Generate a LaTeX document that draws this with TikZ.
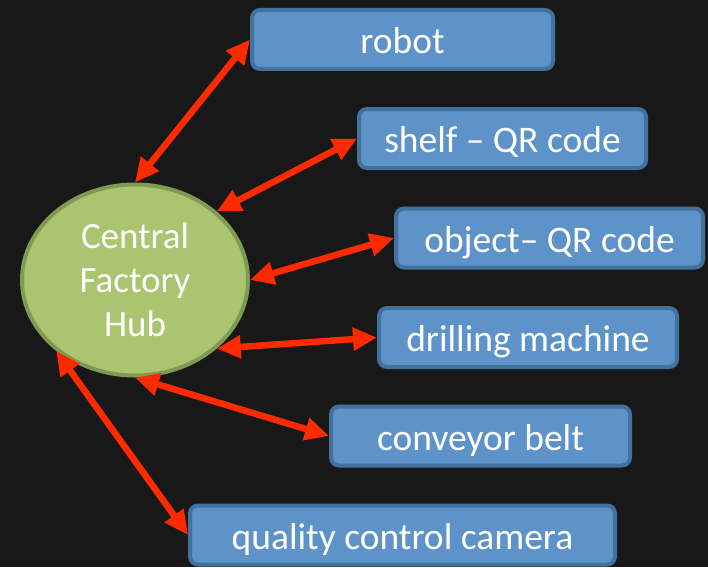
\documentclass[tikz,border=0pt]{standalone}
\usepackage{fontspec}
\setmainfont{Carlito}
\usetikzlibrary{arrows.meta,shapes.geometric}
\definecolor{bg}{HTML}{181818}
\definecolor{boxfill}{HTML}{5E93C9}
\definecolor{boxline}{HTML}{41719C}
\definecolor{hubfill}{HTML}{AAC470}
\definecolor{hubline}{HTML}{7F9A52}
\definecolor{arr}{HTML}{FF2A00}
\tikzset{
  x=1pt,y=1pt,
  boxnode/.style={draw=boxline, fill=boxfill, line width=4pt, rounded corners=8pt,
    minimum height=59pt, text=white, font=\fontsize{37.5}{44}\selectfont, inner sep=0pt,
    text height=32pt, text depth=4pt, anchor=center},
  hubnode/.style={ellipse, draw=hubline, fill=hubfill, line width=4pt,
    minimum width=226pt, minimum height=191pt, text=white, align=center,
    font=\fontsize{37}{44}\selectfont, inner sep=0pt},
  link/.style={draw=arr, line width=6.5pt, {Triangle[length=24pt,width=22pt]}-{Triangle[length=24pt,width=22pt]}}
}
\begin{document}
\begin{tikzpicture}
\fill[bg] (0,0) rectangle (708,-567);
\useasboundingbox (0,0) rectangle (708,-567);
\node[hubnode] (hub) at (135,-280) {Central\\Factory\\Hub};
\node[boxnode, minimum width=301pt] (robot) at (402.5,-39.5) {robot};
\node[boxnode, minimum width=287pt] (shelf) at (502.5,-138.5) {shelf – QR code};
\node[boxnode, minimum width=307pt] (object) at (549.5,-238) {object– QR code};
\node[boxnode, minimum width=298pt] (drill) at (528,-337.5) {drilling machine};
\node[boxnode, minimum width=299pt] (conv) at (480.5,-436) {conveyor belt};
\node[boxnode, minimum width=425pt] (qual) at (402.5,-535) {quality control camera};
\draw[link] (hub.north) -- (robot.west);
\draw[link] (hub.40) -- (shelf.west);
\draw[link] (hub.east) -- (object.west);
\draw[link] (hub.-40) -- (drill.west);
\draw[link] (hub.south) -- (conv.west);
\draw[link] (hub.222) -- (qual.west);
\end{tikzpicture}
\end{document}
